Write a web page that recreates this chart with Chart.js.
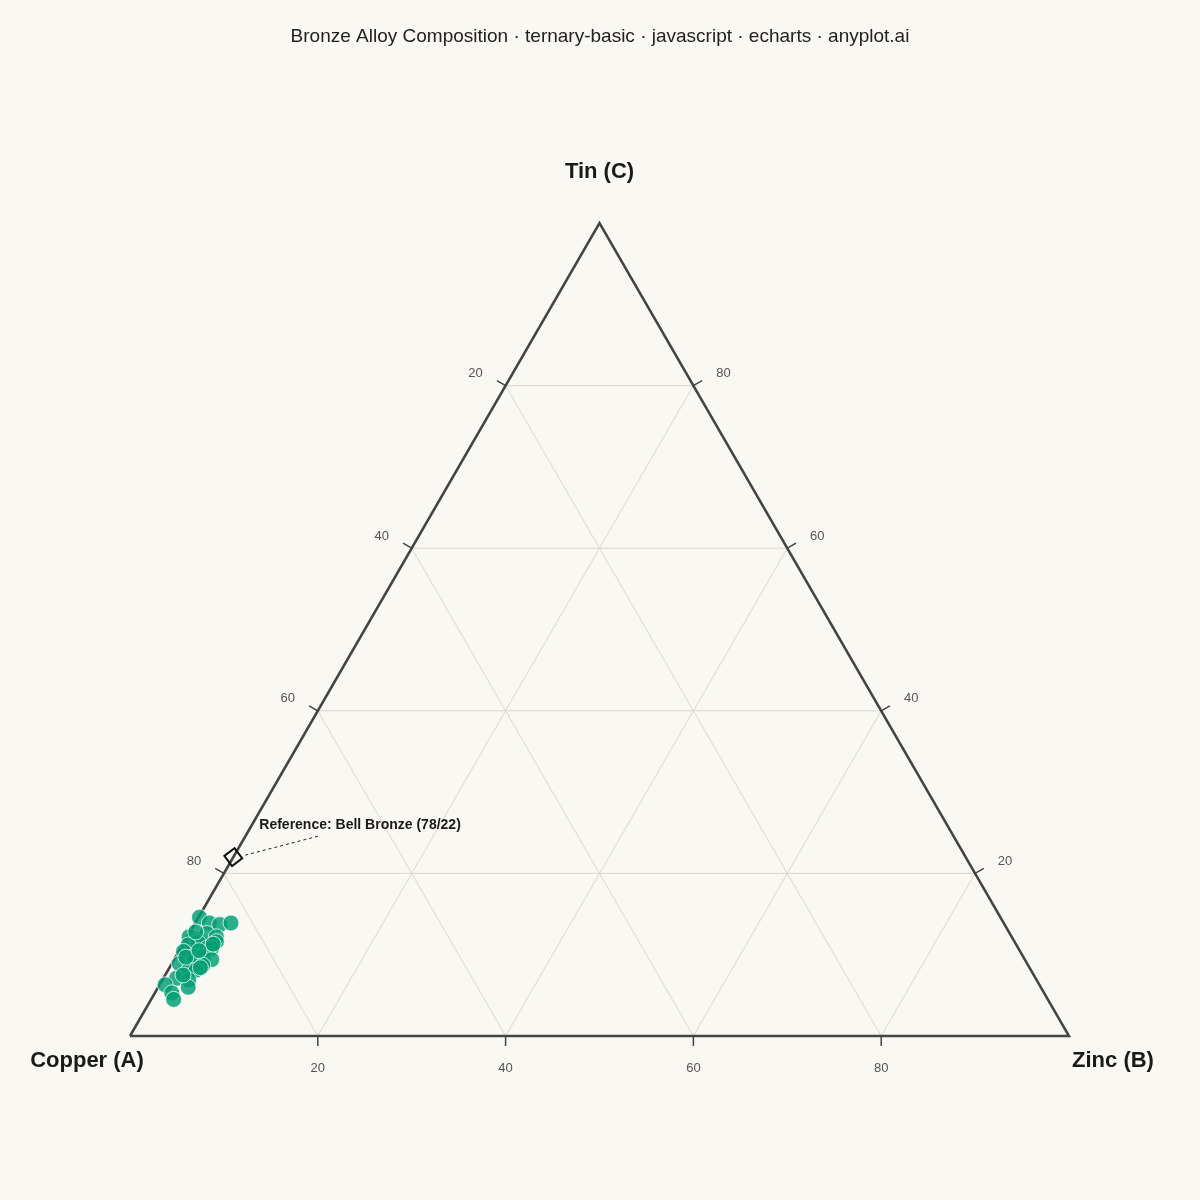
<!DOCTYPE html>
<html>
<head>
<meta charset="utf-8">
<script src="https://cdn.jsdelivr.net/npm/chart.js@4.4.1/dist/chart.umd.min.js"></script>
<style>
  html, body { margin: 0; padding: 0; background: #faf8f2; }
  #wrap { width: 1200px; height: 1200px; }
</style>
</head>
<body>
<div id="wrap"><canvas id="chart" width="1200" height="1200"></canvas></div>
<script>
// ternary compositions (%)
const copper = [85.3, 84.6, 83.6, 82.3, 87.6, 86.8, 85.5, 84.7, 85.0, 87.0, 88.2, 86.4, 85.9, 89.1, 88.3, 87.3, 86.6,
                90.3, 88.7, 87.9, 89.7, 88.9, 91.5, 90.3, 93.1, 90.8, 92.9, 93.1, 86.6, 85.5, 89.2, 87.4, 88.3, 90.6];
const zinc   = [0.1, 1.5, 2.7, 3.8, 0.2, 1.4, 1.9, 3.1, 3.4, 1.5, 0.6, 2.8, 3.3, 0.5, 1.9, 2.9, 4.0,
                0.8, 2.2, 3.4, 2.2, 3.0, 1.4, 2.8, 0.6, 3.2, 1.8, 2.4, 0.6, 3.2, 1.1, 2.1, 3.3, 1.9];
const tin    = [14.6, 13.9, 13.7, 13.9, 12.2, 11.8, 12.6, 12.2, 11.6, 11.5, 11.2, 10.8, 10.8, 10.4, 9.8, 9.8, 9.4,
                8.9, 9.1, 8.7, 8.1, 8.1, 7.1, 6.9, 6.3, 6.0, 5.3, 4.5, 12.8, 11.3, 9.7, 10.5, 8.4, 7.5];

const refCopper = [78];
const refZinc = [0];
const refTin = [22];
const refLabel = 'Reference: Bell Bronze (78/22)';

const gridLevels = [20, 40, 60, 80];
const tickLabels = ['20', '40', '60', '80'];
const axisNames = { a: 'Copper (A)', b: 'Zinc (B)', c: 'Tin (C)' };
const titleText = 'Bronze Alloy Composition \u00b7 ternary-basic \u00b7 javascript \u00b7 echarts \u00b7 anyplot.ai';

const H = Math.sqrt(3) / 2;
const FONT = '"Liberation Sans", Arial, sans-serif';

function toXY(a, b, c) {
    const s = a + b + c;
    return { x: (b + c / 2) / s * 100, y: c / s * 100 * H };
}

function segment(p, q) {
    return [toXY(p[0], p[1], p[2]), toXY(q[0], q[1], q[2])];
}

const gridDatasets = [];
gridLevels.forEach(v => {
    const lines = [
        segment([100 - v, 0, v], [0, 100 - v, v]),   // constant tin
        segment([100 - v, v, 0], [0, v, 100 - v]),   // constant zinc
        segment([v, 100 - v, 0], [v, 0, 100 - v])    // constant copper
    ];
    lines.forEach(pts => {
        gridDatasets.push({
            type: 'line',
            data: pts,
            borderColor: '#d9d7d0',
            borderWidth: 1,
            pointRadius: 0,
            order: 3
        });
    });
});

const alloyPoints = copper.map((a, i) => toXY(a, zinc[i], tin[i]));
const refPoints = refCopper.map((a, i) => toXY(a, refZinc[i], refTin[i]));

const ternaryDecor = {
    id: 'ternaryDecor',
    beforeDraw(chart) {
        const ctx = chart.ctx;
        ctx.save();
        ctx.fillStyle = '#faf8f2';
        ctx.fillRect(0, 0, chart.width, chart.height);
        ctx.restore();
    },
    afterDatasetsDraw(chart) {
        const ctx = chart.ctx;
        const xs = chart.scales.x, ys = chart.scales.y;
        const px = p => ({ x: xs.getPixelForValue(p.x), y: ys.getPixelForValue(p.y) });
        ctx.save();

        // ticks + labels
        ctx.strokeStyle = '#444';
        ctx.lineWidth = 1.5;
        ctx.fillStyle = '#555';
        ctx.font = '13px ' + FONT;
        ctx.textAlign = 'center';
        ctx.textBaseline = 'middle';
        gridLevels.forEach((v, i) => {
            // copper, left edge
            let p = px(toXY(v, 0, 100 - v));
            ctx.beginPath();
            ctx.moveTo(p.x, p.y);
            ctx.lineTo(p.x - 8.7, p.y - 5);
            ctx.stroke();
            ctx.fillText(tickLabels[i], p.x - 30, p.y - 12);
            // tin, right edge
            p = px(toXY(0, 100 - v, v));
            ctx.beginPath();
            ctx.moveTo(p.x, p.y);
            ctx.lineTo(p.x + 8.7, p.y - 5);
            ctx.stroke();
            ctx.fillText(tickLabels[i], p.x + 30, p.y - 12);
            // zinc, bottom edge
            p = px(toXY(100 - v, v, 0));
            ctx.beginPath();
            ctx.moveTo(p.x, p.y);
            ctx.lineTo(p.x, p.y + 10);
            ctx.stroke();
            ctx.fillText(tickLabels[i], p.x, p.y + 32);
        });

        // vertex names
        ctx.fillStyle = '#1a1a1a';
        ctx.font = 'bold 22px ' + FONT;
        const va = px(toXY(100, 0, 0)), vb = px(toXY(0, 100, 0)), vc = px(toXY(0, 0, 100));
        ctx.fillText(axisNames.c, vc.x, vc.y - 51);
        ctx.fillText(axisNames.a, va.x - 43, va.y + 25);
        ctx.fillText(axisNames.b, vb.x + 44, vb.y + 25);

        // reference annotation
        const r = px(refPoints[0]);
        ctx.strokeStyle = '#222';
        ctx.lineWidth = 1;
        ctx.setLineDash([3, 3]);
        ctx.beginPath();
        ctx.moveTo(r.x + 12, r.y - 2);
        ctx.lineTo(r.x + 85, r.y - 21);
        ctx.stroke();
        ctx.setLineDash([]);
        ctx.fillStyle = '#1a1a1a';
        ctx.font = 'bold 14px ' + FONT;
        ctx.textAlign = 'left';
        ctx.fillText(refLabel, r.x + 26, r.y - 32);

        // title
        ctx.textAlign = 'center';
        ctx.font = '19px ' + FONT;
        ctx.fillStyle = '#222';
        ctx.fillText(titleText, chart.width / 2, 37);
        ctx.restore();
    }
};

new Chart(document.getElementById('chart'), {
    type: 'scatter',
    data: {
        datasets: [
            {
                label: 'Alloys',
                data: alloyPoints,
                backgroundColor: 'rgba(0, 158, 115, 0.82)',
                borderColor: 'rgba(255, 255, 255, 0.75)',
                borderWidth: 1,
                pointRadius: 8,
                clip: false,
                order: 0
            },
            {
                label: 'Reference',
                data: refPoints,
                pointStyle: 'rectRot',
                pointRadius: 9,
                rotation: 8,
                backgroundColor: 'rgba(0,0,0,0)',
                borderColor: '#111',
                borderWidth: 2,
                clip: false,
                order: 0
            },
            {
                type: 'line',
                label: 'Triangle',
                data: [toXY(100, 0, 0), toXY(0, 100, 0), toXY(0, 0, 100), toXY(100, 0, 0)],
                borderColor: '#444',
                borderWidth: 2.5,
                pointRadius: 0,
                clip: false,
                order: 1
            },
            ...gridDatasets
        ]
    },
    options: {
        responsive: false,
        animation: false,
        devicePixelRatio: 1,
        layout: { padding: { left: 130, right: 131, top: 223, bottom: 164 } },
        scales: {
            x: { type: 'linear', display: false, min: 0, max: 100 },
            y: { type: 'linear', display: false, min: 0, max: 100 * H }
        },
        plugins: {
            legend: { display: false },
            tooltip: { enabled: false }
        }
    },
    plugins: [ternaryDecor]
});
</script>
</body>
</html>
